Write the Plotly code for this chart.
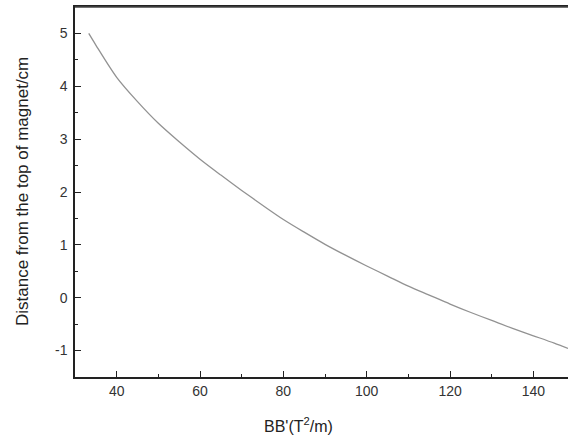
import plotly.graph_objects as go

# Data
bb_prime = [33.3, 35, 40, 45, 50, 55, 60, 65, 70, 75, 80, 85, 90, 95, 100,
            105, 110, 115, 120, 125, 130, 135, 140, 145, 148.3]
distance = [5.00, 4.78, 4.17, 3.71, 3.30, 2.95, 2.62, 2.32, 2.03, 1.75, 1.48,
            1.24, 1.01, 0.80, 0.60, 0.41, 0.22, 0.05, -0.12, -0.28, -0.43,
            -0.58, -0.72, -0.86, -0.96]

x_ticks = [40, 60, 80, 100, 120, 140]
y_ticks = [-1, 0, 1, 2, 3, 4, 5]
y_tick_labels = ["-1", "0", "1", "2", "3", "4", "5"]

font_family = "Liberation Sans, Arial, sans-serif"

fig = go.Figure()
fig.add_trace(go.Scatter(
    x=bb_prime, y=distance, mode="lines",
    line=dict(color="#929292", width=1.3, shape="spline", smoothing=0.8),
    showlegend=False,
))

fig.update_layout(
    width=568, height=439,
    margin=dict(l=75, r=0, t=7, b=62, autoexpand=False),
    paper_bgcolor="white", plot_bgcolor="white",
    font=dict(family=font_family, size=14, color="#222"),
    xaxis=dict(
        range=[30, 148.3], tickvals=x_ticks, ticks="inside", ticklen=6,
        tickwidth=1.2, tickcolor="#222", showline=True, linecolor="#222",
        linewidth=1.5, mirror=True, showgrid=False, zeroline=False,
        automargin=False, tickfont=dict(size=14, color="#333"),
        minor=dict(dtick=10, tick0=30, ticks="inside", ticklen=3,
                   tickwidth=1, tickcolor="#222"),
    ),
    yaxis=dict(
        range=[-1.5, 5.5], tickvals=y_ticks, ticktext=y_tick_labels,
        ticks="inside", ticklen=6,
        tickwidth=1.2, tickcolor="#222", showline=True, linecolor="#222",
        linewidth=1.5, mirror=False, showgrid=False, zeroline=False,
        automargin=False, tickfont=dict(size=14, color="#333"),
        ticklabelstandoff=3,
        minor=dict(dtick=0.5, tick0=0, ticks="inside", ticklen=3,
                   tickwidth=1, tickcolor="#222"),
    ),
    shapes=[
        dict(type="line", xref="paper", yref="paper", x0=0, x1=1, y0=1, y1=1,
             line=dict(color="#444", width=1.5)),
    ],
    annotations=[
        dict(text="BB'(T<sup>2</sup>/m)", xref="paper", yref="paper",
             x=(298 - 75) / 493, y=-48 / 370, xanchor="center",
             yanchor="middle", showarrow=False,
             font=dict(size=16, color="#222", family=font_family)),
        dict(text="Distance from the top of magnet/cm", xref="paper",
             yref="paper", x=-(75 - 22) / 493, y=0.5, xanchor="center",
             yanchor="middle", textangle=-90, showarrow=False,
             font=dict(size=17, color="#222", family=font_family)),
    ],
)

fig.write_html(
    "out.html",
    config={"displayModeBar": False},
    post_script="document.body.style.margin='0px';"
                "document.body.style.padding='0px';",
)
